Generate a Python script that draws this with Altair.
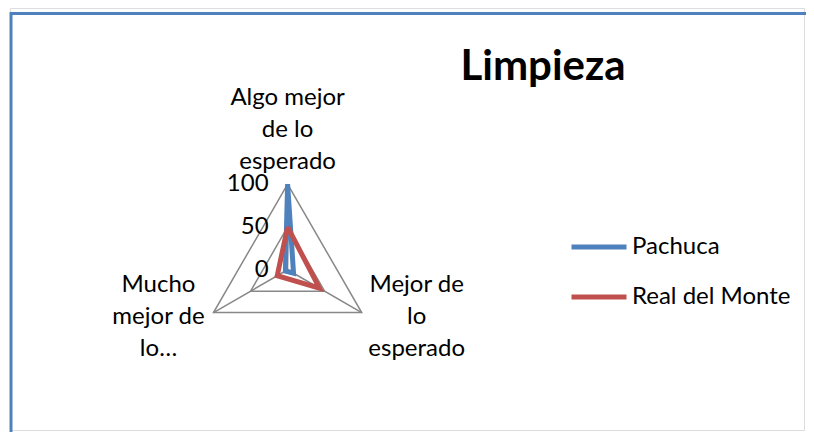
import math
import altair as alt
import pandas as pd

# ---- data ----
categories = ["Algo mejor de lo esperado", "Mejor de lo esperado", "Mucho mejor de lo esperado"]
category_labels = ["Algo mejor\nde lo\nesperado", "Mejor de\nlo\nesperado", "Mucho\nmejor de\nlo…"]
series_names = ["Pachuca", "Real del Monte"]
pachuca = [100, 8, 3]
real_del_monte = [50, 43, 14]
tick_values = [0, 50, 100]
grid_levels = [50, 100]
series_colors = ["#4F81BD", "#C0504D"]
axis_angles = [90, -30, 210]  # degrees, clockwise from top as Excel radar
title_text = "Limpieza"

FONT = "Lato"
W, H = 798, 424
CX, CY, R = 279, 263, 86  # radar centre and radius in pixels (layout only)

x_dom = [-CX / R * 100, (W - CX) / R * 100]
y_dom = [-(H - CY) / R * 100, CY / R * 100]
xs = alt.Scale(domain=x_dom, nice=False, zero=False)
ys = alt.Scale(domain=y_dom, nice=False, zero=False)


def pt(v, ang):
    a = math.radians(ang)
    return v * math.cos(a), v * math.sin(a)


# series polygons
rows = []
for name, vals in zip(series_names, [pachuca, real_del_monte]):
    for i in range(len(categories) + 1):
        k = i % len(categories)
        x, y = pt(vals[k], axis_angles[k])
        rows.append({"serie": name, "x": x, "y": y, "ord": i, "cat": categories[k], "valor": vals[k]})
df_series = pd.DataFrame(rows)

# grid triangles
grows = []
for lv in grid_levels:
    for i in range(len(categories) + 1):
        k = i % len(categories)
        x, y = pt(lv, axis_angles[k])
        grows.append({"lvl": lv, "x": x, "y": y, "ord": i})
df_grid = pd.DataFrame(grows)

# spokes
srows = []
for c, ang in zip(categories, axis_angles):
    for v in [0, max(grid_levels)]:
        x, y = pt(v, ang)
        srows.append({"cat": c, "x": x, "y": y, "ord": v})
df_spokes = pd.DataFrame(srows)

# category labels at outer vertices
lrows = []
for c, lab, ang in zip(categories, category_labels, axis_angles):
    x, y = pt(max(grid_levels), ang)
    lrows.append({"cat": c, "label": lab, "x": x, "y": y})
df_labels = pd.DataFrame(lrows)

df_ticks = pd.DataFrame({"x": [0] * len(tick_values), "y": tick_values, "t": [str(t) for t in tick_values]})

X = alt.X("x:Q", scale=xs, axis=None)
Y = alt.Y("y:Q", scale=ys, axis=None)

grid = alt.Chart(df_grid).mark_line(color="#888888", strokeWidth=1.5).encode(
    x=X, y=Y, detail="lvl:N", order="ord:Q"
)
spokes = alt.Chart(df_spokes).mark_line(color="#888888", strokeWidth=1.5).encode(
    x=X, y=Y, detail="cat:N", order="ord:Q"
)
lines = alt.Chart(df_series).mark_line(strokeWidth=5).encode(
    x=X,
    y=Y,
    order="ord:Q",
    color=alt.Color(
        "serie:N",
        scale=alt.Scale(domain=series_names, range=series_colors),
        legend=alt.Legend(
            orient="none",
            legendX=559,
            legendY=209,
            title=None,
            symbolType="stroke",
            symbolSize=3025,
            symbolStrokeWidth=5,
            labelFont=FONT,
            labelFontSize=24,
            labelColor="#000000",
            labelOffset=3,
            rowPadding=8,
            padding=0,
        ),
    ),
)

ticks = alt.Chart(df_ticks).mark_text(
    align="right", baseline="middle", dx=-19, font=FONT, fontSize=24, color="#000000"
).encode(x=X, y=Y, text="t:N")

label_layers = []
offsets = {categories[0]: (0, -86), categories[1]: (55, -28), categories[2]: (-55, -28)}
for c in categories:
    dx, dy = offsets[c]
    label_layers.append(
        alt.Chart(df_labels)
        .transform_filter(alt.datum.cat == c)
        .mark_text(
            align="center", baseline="middle", dx=dx, dy=dy, font=FONT, fontSize=24,
            lineBreak="\n", lineHeight=32, color="#000000",
        )
        .encode(x=X, y=Y, text="label:N")
    )

title = alt.Chart(pd.DataFrame({"t": [title_text]})).mark_text(
    align="center", baseline="alphabetic", font=FONT, fontSize=42, fontWeight="bold", color="#000000"
).encode(x=alt.value(533), y=alt.value(72), text="t:N")

frame_top = alt.Chart(pd.DataFrame({"a": [0]})).mark_rule(color="#4F81BD", strokeWidth=3).encode(
    x=alt.value(0), x2=alt.value(W), y=alt.value(5.5)
)
frame_left = alt.Chart(pd.DataFrame({"a": [0]})).mark_rule(color="#4F81BD", strokeWidth=3).encode(
    x=alt.value(1), y=alt.value(4), y2=alt.value(H)
)

chart = alt.layer(
    frame_top, frame_left, grid, spokes, lines, ticks, *label_layers, title
).properties(
    width=W, height=H, padding=0,
    autosize=alt.AutoSizeParams(type="fit", contains="padding"),
).configure_view(stroke="transparent", strokeWidth=0).configure(background="#ffffff")

chart.save("out.html", embed_options={"renderer": "svg", "actions": False})
